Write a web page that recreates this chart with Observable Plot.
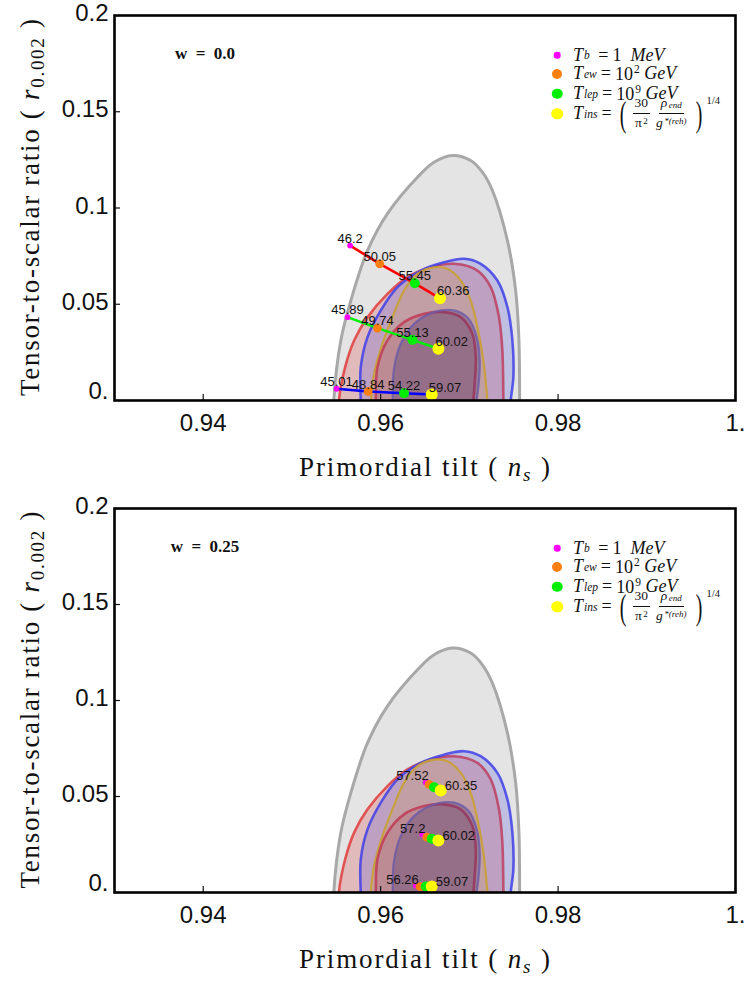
<!DOCTYPE html>
<html><head><meta charset="utf-8">
<script src="https://cdn.jsdelivr.net/npm/d3@7"></script>
<script src="https://cdn.jsdelivr.net/npm/@observablehq/plot@0.6"></script>
<style>
body{margin:0;background:#fff;}
#wrap{position:relative;width:745px;height:981px;overflow:hidden;background:#fff;}
.panel{position:absolute;left:0;}
.lg{position:absolute;left:0;top:0;width:745px;height:0;font-family:"Liberation Serif",serif;color:#111;}
.row{position:absolute;left:573px;white-space:nowrap;display:flex;align-items:center;height:22px;font-size:18px;font-style:italic;transform:translateY(-50%);}
.row sub{font-size:11.5px;vertical-align:-4px;margin-left:1px;}
.row sup{font-size:11.5px;vertical-align:7px;margin-left:1px;}
.row .up{font-style:normal;}
.row .eq{font-style:normal;margin:0 4px;}
.mk{position:absolute;border-radius:50%;transform:translate(-50%,-50%);}
.frac{display:inline-flex;flex-direction:column;align-items:center;font-size:13.5px;margin:0 3px;}
.frac .num{border-bottom:0.8px solid #111;padding:0 2px 2px 2px;line-height:1.1;}
.frac .den{line-height:1.1;padding-top:2px;}
.frac sub,.frac sup{font-size:9px;line-height:1;margin-left:1.5px;}
.frac sub{vertical-align:-1px;}
.frac sup{vertical-align:3px;}
.paren{font-style:normal;font-size:36px;font-weight:100;line-height:30px;height:30px;transform:scaleX(0.55);display:inline-block;margin:0 1px;}
.pw{font-style:normal;font-size:10.5px;align-self:flex-start;margin-top:-8px;margin-left:1px;}
.wlab{position:absolute;font-family:"Liberation Serif",serif;font-weight:bold;font-size:17px;transform:translate(-50%,-50%);white-space:pre;}
</style></head><body><div id="wrap"></div>
<script>
// ---------- axis ticks ----------
const xTicks = [0.94, 0.96, 0.98, 1.0];
const xTickLabels = ["0.94", "0.96", "0.98", "1."];
const yTicks = [0, 0.05, 0.1, 0.15, 0.2];
const yTickLabels = ["0.", "0.05", "0.1", "0.15", "0.2"];

// ---------- observational contours [n_s, r] ----------
const contourGray = [[0.95472,0],[0.95551,0.0312],[0.95664,0.0519],[0.95852,0.0779],[0.96077,0.0971],[0.96415,0.1160],[0.96602,0.1238],[0.96809,0.1273],[0.97015,0.1247],[0.97147,0.1186],[0.9726,0.1091],[0.97429,0.0831],[0.97522,0.0571],[0.97559,0.0312],[0.97567,0],[0.9757,-0.012],[0.9652,-0.02],[0.9547,-0.012]];
const contourRedOuter = [[0.95530,0],[0.95600,0.0173],[0.95701,0.0312],[0.95852,0.0433],[0.96077,0.0554],[0.96302,0.0641],[0.96565,0.0692],[0.96827,0.0710],[0.97091,0.0675],[0.97241,0.0589],[0.97334,0.0433],[0.97372,0.0260],[0.97384,0],[0.9739,-0.012],[0.9647,-0.02],[0.9553,-0.012]];
const contourBlueOuter = [[0.95776,0],[0.95776,0.0173],[0.95852,0.0329],[0.96002,0.0468],[0.9619,0.0589],[0.96452,0.0675],[0.96715,0.0718],[0.9694,0.0736],[0.97128,0.0710],[0.97316,0.0623],[0.97429,0.0485],[0.97485,0.0312],[0.97496,0.0121],[0.97466,0],[0.9745,-0.012],[0.9662,-0.02],[0.9579,-0.012]];
const contourGold = [[0.95889,0],[0.95926,0.0139],[0.96021,0.0295],[0.96133,0.0433],[0.96264,0.0571],[0.96415,0.0658],[0.96602,0.0692],[0.96753,0.0684],[0.96903,0.0623],[0.97015,0.0519],[0.97091,0.0381],[0.97158,0.0208],[0.97203,0],[0.9722,-0.012],[0.9655,-0.02],[0.9588,-0.012]];
const contourRedInner = [[0.95945,0],[0.95964,0.0173],[0.96077,0.0312],[0.96264,0.0407],[0.96489,0.0450],[0.96715,0.0459],[0.96903,0.0433],[0.97034,0.0346],[0.97072,0.0225],[0.9706,0.0087],[0.97046,0],[0.9703,-0.012],[0.965,-0.02],[0.9594,-0.012]];
const contourBlueInner = [[0.96137,0],[0.96148,0.0156],[0.96227,0.0295],[0.96377,0.0398],[0.96602,0.0459],[0.96827,0.0468],[0.96993,0.0424],[0.97083,0.0329],[0.97117,0.0208],[0.97105,0.0087],[0.97083,0],[0.9707,-0.012],[0.9662,-0.02],[0.9614,-0.012]];

// ---------- model predictions, w = 0.0 (order: T_b, T_ew, T_lep, T_ins) ----------
const w00_top_ns = [0.95656, 0.95990, 0.96385, 0.96669];
const w00_top_r  = [0.0805, 0.0710, 0.0609, 0.0531];
const w00_top_N  = ["46.2", "50.05", "55.45", "60.36"];
const w00_mid_ns = [0.95626, 0.95964, 0.96359, 0.96651];
const w00_mid_r  = [0.0433, 0.0376, 0.0315, 0.0269];
const w00_mid_N  = ["45.89", "49.74", "55.13", "60.02"];
const w00_bot_ns = [0.95503, 0.95859, 0.96264, 0.96576];
const w00_bot_r  = [0.0061, 0.0047, 0.0038, 0.0031];
const w00_bot_N  = ["45.01", "48.84", "54.22", "59.07"];

// ---------- model predictions, w = 0.25 ----------
const w025_top_ns = [0.96508, 0.96546, 0.96602, 0.96677];
const w025_top_r  = [0.0574, 0.0563, 0.0548, 0.0531];
const w025_top_N  = ["57.52", "", "", "60.35"];
const w025_mid_ns = [0.96471, 0.96520, 0.96576, 0.96651];
const w025_mid_r  = [0.0302, 0.0288, 0.0280, 0.0271];
const w025_mid_N  = ["57.2", "", "", "60.02"];
const w025_bot_ns = [0.96396, 0.96444, 0.96508, 0.96576];
const w025_bot_r  = [0.0036, 0.0031, 0.0031, 0.0031];
const w025_bot_N  = ["56.26", "", "", "59.07"];

// ---------- styles ----------
const tempColors = ["#ff00ff", "#ff7f0e", "#00ee00", "#ffff00"];
const tempRadius = [2.9, 4.4, 5.0, 6.0];
const seriesColors = ["#ff0000", "#00ee00", "#0000ff"];
const contourStyles = [
  {pts: contourGray, fill: "#e4e4e4", fo: 1, stroke: "#a8a8a8", sw: 3, so: 1},
  {pts: contourRedOuter, fill: "#d83c3c", fo: 0.24, stroke: "#e03c3c", sw: 2.6, so: 0.85},
  {pts: contourBlueOuter, fill: "#4a4ad8", fo: 0.24, stroke: "#4040e8", sw: 2.6, so: 0.85},
  {pts: contourGold, fill: "#d09a40", fo: 0.22, stroke: "#c8a038", sw: 2.2, so: 0.95},
  {pts: contourRedInner, fill: "#a83040", fo: 0.18, stroke: "#c03a55", sw: 2.6, so: 0.85},
  {pts: contourBlueInner, fill: "#3a2a70", fo: 0.3, stroke: "#6a5aa8", sw: 2.2, so: 0.8}
];

function buildPanel({height, mt, mb, series, labMid, labLast}) {
  const marks = [];
  for (const c of contourStyles) {
    marks.push(Plot.line(c.pts, {x: d => d[0], y: d => d[1], curve: "catmull-rom-closed",
      fill: c.fill, fillOpacity: c.fo, stroke: c.stroke, strokeWidth: c.sw, strokeOpacity: c.so, clip: true}));
  }
  series.forEach((s, j) => {
    marks.push(Plot.line(s.ns.map((v, i) => ({x: v, y: s.r[i]})), {x: "x", y: "y", stroke: seriesColors[j], strokeWidth: 2.6}));
  });
  for (let k = 0; k < 4; k++) {
    marks.push(Plot.dot(series.map(s => ({x: s.ns[k], y: s.r[k]})), {x: "x", y: "y", r: tempRadius[k], fill: tempColors[k], stroke: "none"}));
  }
  for (let k = 0; k < 4; k++) {
    const rows = series.map(s => ({x: s.ns[k], y: s.r[k], t: s.N[k]})).filter(d => d.t);
    const o = k === 3 ? labLast : labMid;
    marks.push(Plot.text(rows, {x: "x", y: "y", text: "t", fontSize: 13, fill: "#111",
      fontFamily: "Liberation Sans, Arial, sans-serif", ...o}));
  }
  // inward ticks
  const innerH = height - mt - mb, innerW = 745 - 114 - 10;
  marks.push(Plot.ruleX(xTicks, {stroke: "#111", strokeWidth: 1.2, insetTop: innerH - 6}));
  marks.push(Plot.ruleY(yTicks, {stroke: "#111", strokeWidth: 1.2, insetRight: innerW - 6}));
  marks.push(Plot.frame({stroke: "#000", strokeWidth: 2.6}));
  marks.push(Plot.axisX(xTicks, {tickSize: 0, tickPadding: 13, fontSize: 24, label: null,
    tickFormat: d => xTickLabels[xTicks.indexOf(d)]}));
  marks.push(Plot.axisY(yTicks.filter(d => d !== 0), {tickSize: 0, tickPadding: 6, fontSize: 24, label: null, dy: -2,
    tickFormat: d => yTickLabels[yTicks.indexOf(d)]}));
  marks.push(Plot.axisY([0], {tickSize: 0, tickPadding: 6, fontSize: 24, label: null, dy: -9,
    tickFormat: d => yTickLabels[yTicks.indexOf(d)]}));

  const svg = Plot.plot({
    width: 745, height, marginLeft: 114, marginRight: 10, marginTop: mt, marginBottom: mb,
    x: {domain: [0.93, 1.0]}, y: {domain: [0, 0.2]},
    style: {background: "transparent", fontFamily: "'Liberation Sans', Arial, sans-serif", color: "#111", overflow: "visible"},
    marks
  });
  const s = d3.select(svg);
  const serif = "'Liberation Serif', serif";
  // x label
  const xl = s.append("text").attr("x", (114 + 735) / 2).attr("y", height - mb + 76)
    .attr("text-anchor", "middle").style("font-family", serif)
    .style("font-size", "27px").attr("fill", "#111").attr("textLength", 251).attr("lengthAdjust", "spacing");
  xl.append("tspan").text("Primordial tilt ( ");
  xl.append("tspan").style("font-style", "italic").text("n");
  xl.append("tspan").style("font-style", "italic").style("font-size", "19px").attr("dy", 5).text("s");
  xl.append("tspan").attr("dy", -5).text(" )");
  // y label
  const yc = (mt + height - mb) / 2;
  const yl = s.append("text").attr("transform", `translate(39,${yc}) rotate(-90)`)
    .attr("text-anchor", "middle").style("font-family", serif)
    .style("font-size", "27px").attr("fill", "#111").attr("textLength", 377).attr("lengthAdjust", "spacing");
  yl.append("tspan").text("Tensor-to-scalar ratio ( ");
  yl.append("tspan").style("font-style", "italic").text("r");
  yl.append("tspan").style("font-size", "19px").attr("dy", 5).text("0.002");
  yl.append("tspan").attr("dy", -5).text(" )");
  return svg;
}

const wrap = document.getElementById("wrap");
function addPanel(top, svg) {
  const d = document.createElement("div");
  d.className = "panel"; d.style.top = top + "px";
  d.appendChild(svg); wrap.appendChild(d);
}

addPanel(0, buildPanel({height: 492, mt: 15, mb: 92,
  series: [{ns: w00_top_ns, r: w00_top_r, N: w00_top_N}, {ns: w00_mid_ns, r: w00_mid_r, N: w00_mid_N}, {ns: w00_bot_ns, r: w00_bot_r, N: w00_bot_N}],
  labMid: {textAnchor: "middle", dy: -7}, labLast: {textAnchor: "start", dx: -3, dy: -7}}));
addPanel(492, buildPanel({height: 489, mt: 16, mb: 89,
  series: [{ns: w025_top_ns, r: w025_top_r, N: w025_top_N}, {ns: w025_mid_ns, r: w025_mid_r, N: w025_mid_N}, {ns: w025_bot_ns, r: w025_bot_r, N: w025_bot_N}],
  labMid: {textAnchor: "end", dx: 3, dy: -6}, labLast: {textAnchor: "start", dx: 4, dy: -5}}));

// legends and w labels
const legendTexts = [
  'T<sub>b</sub>&nbsp;<span class="eq">=</span><span class="up">1</span>&nbsp;&nbsp;MeV',
  'T<sub>ew</sub><span class="eq">=</span><span class="up">10<sup>2</sup></span>&nbsp;GeV',
  'T<sub>lep</sub><span class="eq">=</span><span class="up">10<sup>9</sup></span>&nbsp;GeV',
  'T<sub>ins</sub><span class="eq">=</span><span class="paren">(</span><span class="frac up"><span class="num">30</span><span class="den">π<sup>2</sup></span></span><span class="frac"><span class="num">ρ<sub>end</sub></span><span class="den">g<sup>*(reh)</sup></span></span><span class="paren" style="margin-left:3px">)</span><span class="pw">1/4</span>'
];
function addLegend(offset, wText) {
  const lg = document.createElement("div");
  lg.className = "lg"; lg.style.top = offset + "px";
  const ys = [55, 73.5, 93.5, 113.5];
  ys.forEach((y, k) => {
    const m = document.createElement("div");
    m.className = "mk";
    const dm = [6.6, 10, 10.5, 11.5][k];
    Object.assign(m.style, {left: "557px", top: y + "px", width: dm + "px", height: dm + "px", background: tempColors[k]});
    lg.appendChild(m);
    const r = document.createElement("div");
    r.className = "row"; r.style.top = y + "px";
    r.innerHTML = legendTexts[k];
    lg.appendChild(r);
  });
  const w = document.createElement("div");
  w.className = "wlab"; w.style.left = "205px"; w.style.top = "54px";
  w.textContent = wText;
  lg.appendChild(w);
  wrap.appendChild(lg);
}
addLegend(0, "w  =  0.0");
addLegend(493, "w  =  0.25");
</script></body></html>
